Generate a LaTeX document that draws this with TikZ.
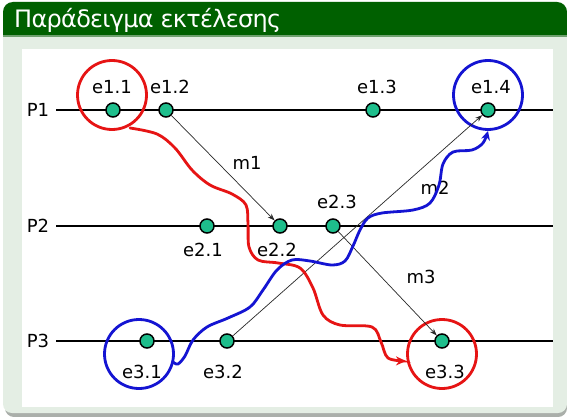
\documentclass[tikz,border=0pt]{standalone}
\usepackage{fontspec}
\setmainfont{DejaVu Sans}
\usetikzlibrary{arrows.meta}
\definecolor{hdr}{RGB}{0,96,0}
\definecolor{hdrline}{RGB}{110,160,110}
\definecolor{panel}{RGB}{228,238,228}
\definecolor{shadowc}{RGB}{170,175,170}
\definecolor{dotc}{RGB}{30,190,140}
\definecolor{redc}{RGB}{230,20,20}
\definecolor{bluec}{RGB}{20,20,210}
\definecolor{msgc}{RGB}{40,40,40}
\tikzset{
  ev/.style={circle, draw=black, line width=1.5pt, fill=dotc, minimum size=14pt, inner sep=0pt},
  lab/.style={font=\fontsize{18}{21}\selectfont, inner sep=0pt},
  proc/.style={draw=black, line width=1.5pt},
  msg/.style={draw=msgc, line width=0.7pt, -{Stealth[length=7pt,width=5pt]}},
  ring/.style={circle, line width=2.8pt, minimum size=69pt, inner sep=0pt},
  wave/.style={line width=2.8pt, line cap=round}
}
\begin{document}
\begin{tikzpicture}[x=1pt,y=-1pt]
\useasboundingbox (0,0) rectangle (567,417);
% frame
\fill[shadowc, rounded corners=9pt] (5,6) rectangle (567,417);
\fill[panel, rounded corners=9pt] (3,2) rectangle (567,413);
\fill[hdr] (3,35) {[rounded corners=10pt] -- (3,2) -- (567,2)} -- (567,35) -- cycle;
\fill[hdrline] (3,35) rectangle (567,37.5);
\fill[white] (22,49) rectangle (553,407);
\node[anchor=base west, text=white, inner sep=0pt] (title) at (14,28) {\fontsize{24}{28}\selectfont\addfontfeatures{LetterSpace=-3}Παράδειγμα εκτέλεσης};
% process labels
\node[lab] (P1) at (38,110) {P1};
\node[lab] (P2) at (38,226) {P2};
\node[lab] (P3) at (38,341) {P3};
\coordinate (P1end) at (553,110);
\coordinate (P2end) at (553,226);
\coordinate (P3end) at (553,341);
\draw[proc] ([xshift=7pt]P1.east) -- (P1end);
\draw[proc] ([xshift=7pt]P2.east) -- (P2end);
\draw[proc] ([xshift=7pt]P3.east) -- (P3end);
% rings
\node[ring, draw=redc] (r11) at (112,95) {};
\node[ring, draw=bluec] (r14) at (488,95) {};
\node[ring, draw=bluec] (r31) at (139,354) {};
\node[ring, draw=redc] (r33) at (442,354) {};
% events
\node[ev] (e11) at (113,110) {};
\node[ev] (e12) at (166,110) {};
\node[ev] (e13) at (373,110) {};
\node[ev] (e14) at (488,110) {};
\node[ev] (e21) at (207,226) {};
\node[ev] (e22) at (280,226) {};
\node[ev] (e23) at (333,226) {};
\node[ev] (e31) at (147,341) {};
\node[ev] (e32) at (227,341) {};
\node[ev] (e33) at (442,341) {};
\draw[msg] (e12) -- (e22);
\draw[msg] (e32) -- (e14);
\draw[msg] (e23) -- (e33);
% event labels
\node[lab] (l11) at (112,87) {e1.1};
\node[lab] (l12) at (170,87) {e1.2};
\node[lab] (l13) at (377,87) {e1.3};
\node[lab] (l14) at (491,87) {e1.4};
\node[lab] (l21) at (203,250) {e2.1};
\node[lab] (l22) at (277,250) {e2.2};
\node[lab] (l23) at (337,202) {e2.3};
\node[lab] (l31) at (142,372) {e3.1};
\node[lab] (l32) at (223,372) {e3.2};
\node[lab] (l33) at (445,372) {e3.3};
\node[lab] (m1) at (247,163) {m1};
\node[lab] (m2) at (435,188) {m2};
\node[lab] (m3) at (421,277) {m3};
% wavy causal paths
\draw[wave, draw=redc, -{Stealth[length=10pt,width=9pt]}] plot[smooth, tension=0.55] coordinates {(130,128) (157,134) (175,148) (192,170) (210,185) (232,194) (246,205) (248,225) (249,247) (258,260) (278,263) (300,268) (313,288) (323,315) (340,325) (372,327) (381,342) (388,358) (406,361)};
\draw[wave, draw=bluec, -{Stealth[length=9pt,width=9pt]}] plot[smooth, tension=0.55] coordinates {(173,362) (178,364) (185,356) (193,340) (207,327) (228,318) (250,307) (263,290) (277,270) (292,260) (310,261) (332,265) (345,261) (353,246) (360,230) (368,218) (382,213) (413,210) (430,203) (439,185) (443,164) (453,152) (472,150) (483,143) (488,131)};
\end{tikzpicture}
\end{document}
